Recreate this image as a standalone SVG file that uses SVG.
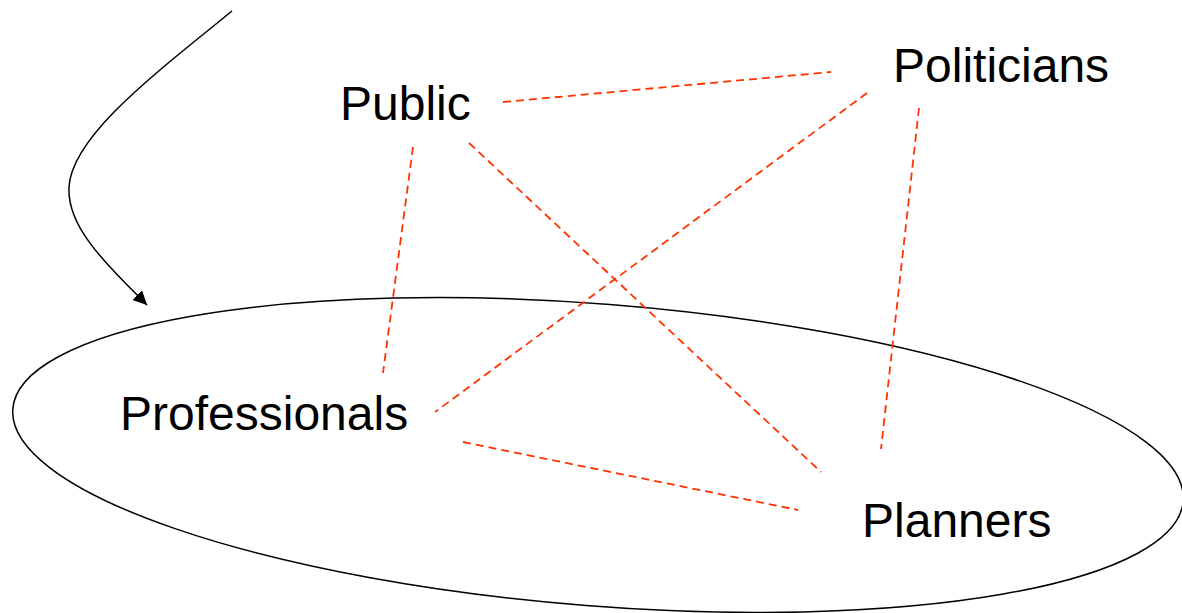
<svg xmlns="http://www.w3.org/2000/svg" width="1182" height="613" viewBox="0 0 1182 613">
<style>
.lbl{font-family:"Liberation Sans",Arial,sans-serif;font-size:48px;fill:#000}
.dash{stroke:#FF3300;stroke-width:1.8;stroke-dasharray:8,5;fill:none}
</style>
<defs>
<marker id="arr" viewBox="0 0 10 10" refX="10" refY="5" markerWidth="14" markerHeight="14" markerUnits="userSpaceOnUse" orient="auto">
<path d="M0,0 L10,5 L0,10 z" fill="#000"/>
</marker>
</defs>
<rect width="1182" height="613" fill="#fff"/>
<g id="group-ellipse">
<ellipse cx="598" cy="455" rx="587" ry="151" transform="rotate(4.5 598 455)" fill="none" stroke="#000" stroke-width="1.5"/>
</g>
<g id="connectors">
<path d="M232,11 C160,70 72,135 69,187 C67,225 100,258 147,305" fill="none" stroke="#000" stroke-width="1.5" marker-end="url(#arr)"/>
<line class="dash" x1="503" y1="102" x2="831" y2="72"/>
<line class="dash" x1="469" y1="143" x2="821" y2="472"/>
<line class="dash" x1="413" y1="147" x2="383" y2="373"/>
<line class="dash" x1="867" y1="93" x2="435" y2="412"/>
<line class="dash" x1="919" y1="108" x2="881" y2="449"/>
<line class="dash" x1="463" y1="442" x2="798" y2="510"/>
</g>
<g id="node-public"><text class="lbl" x="340" y="120">Public</text></g>
<g id="node-politicians"><text class="lbl" x="893" y="82">Politicians</text></g>
<g id="node-professionals"><text class="lbl" x="120" y="430">Professionals</text></g>
<g id="node-planners"><text class="lbl" x="862" y="537">Planners</text></g>
</svg>
